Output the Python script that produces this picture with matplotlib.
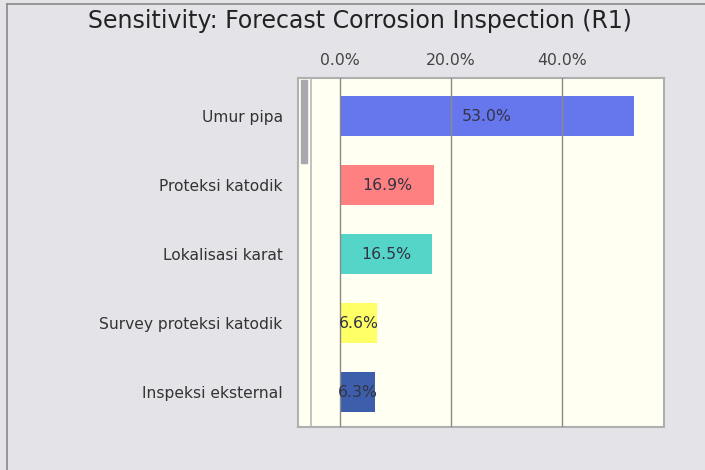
import numpy as np
import matplotlib.pyplot as plt
from matplotlib.patches import Rectangle

# sensitivity data
factors = ['Umur pipa', 'Proteksi katodik', 'Lokalisasi karat',
           'Survey proteksi katodik', 'Inspeksi eksternal']
contrib = [53.0, 16.9, 16.5, 6.6, 6.3]
bar_colors = ['#6677ee', '#ff8080', '#55d4c8', '#ffff66', '#3d5fab']
ticks = [0, 20, 40]
tick_labels = ['0.0%', '20.0%', '40.0%']

W, H = 705, 470
fig = plt.figure(figsize=(W / 100, H / 100), dpi=100, facecolor='#e4e3e8')

# plot panel in pixel coords
x0, x1, y0, y1 = 298, 664, 78, 427
ax = fig.add_axes([x0 / W, 1 - y1 / H, (x1 - x0) / W, (y1 - y0) / H])
ax.set_facecolor('#fffff2')

y = np.arange(len(factors))
ax.barh(y, contrib, height=0.58, color=bar_colors, zorder=2)
for yi, v in zip(y, contrib):
    ax.text(v / 2, yi, f'{v:.1f}%', ha='center', va='center',
            fontsize=11.3, color='#333344', zorder=4)

ax.set_xlim(-7.6, 58.4)
ax.set_ylim(4.5, -0.55)
for t in ticks:
    ax.axvline(t, color='#8a8a8a', lw=1.0, zorder=3)

ax.xaxis.tick_top()
ax.set_xticks(ticks)
ax.set_xticklabels(tick_labels, fontsize=11.3, color='#444444')
ax.tick_params(axis='x', length=0, pad=7)
ax.set_yticks(y)
ax.set_yticklabels(factors, fontsize=11.2, color='#333333')
ax.tick_params(axis='y', length=0, pad=11)
for s in ax.spines.values():
    s.set_color('#b0b0b0')
    s.set_linewidth(1.5)

# side strip with scroll handle
ax.axvline(-5.2, color='#b8b8b8', lw=1.2, zorder=3)
ax.add_patch(Rectangle((-7.1, -0.52), 1.1, 1.2, color='#a8a8ae', zorder=3))

fig.text(360 / W, 1 - 21 / H, 'Sensitivity: Forecast Corrosion Inspection (R1)',
         ha='center', va='center', fontsize=17, color='#222222')

# outer frame lines
fig.add_artist(plt.Line2D([7 / W, 7 / W], [0, 1 - 4 / H], color='#888888', lw=1.2))
fig.add_artist(plt.Line2D([7 / W, 1], [1 - 4 / H, 1 - 4 / H], color='#888888', lw=1.2))

fig.savefig('out.png', dpi=100, facecolor=fig.get_facecolor())
